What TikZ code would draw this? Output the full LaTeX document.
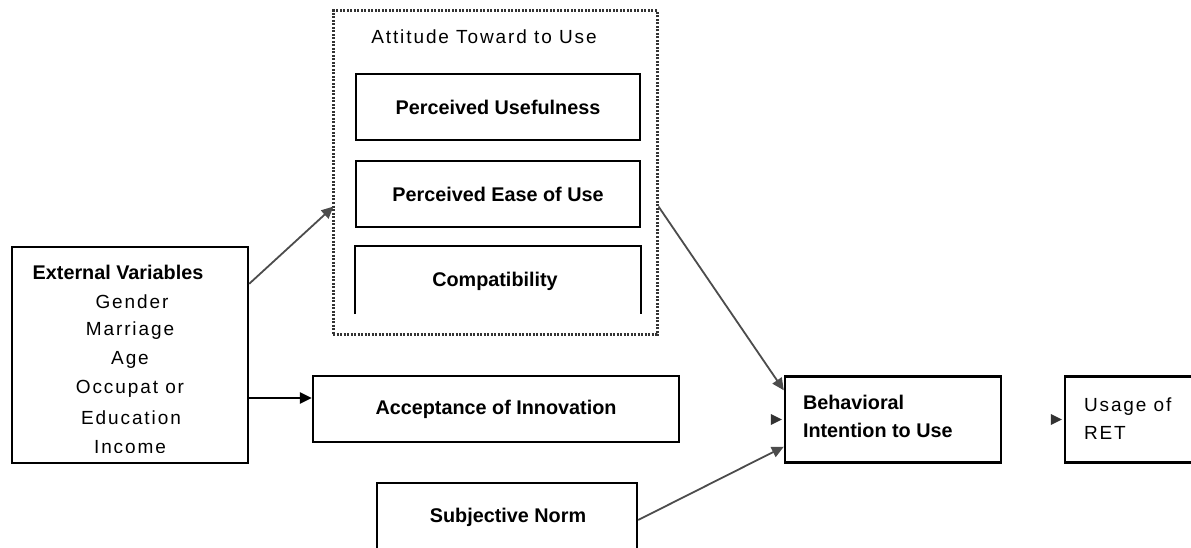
\documentclass[tikz,border=0pt]{standalone}
\usepackage{fontspec}
\setmainfont{Liberation Sans}
\newfontfamily\regfont[LetterSpace=10]{Liberation Sans}
\usetikzlibrary{arrows.meta,calc}
\tikzset{
  boxnode/.style={draw=black, line width=2.4pt, minimum width=#1, inner sep=0pt},
  openbox/.style={line width=2.4pt, minimum width=#1, inner sep=0pt},
  boldlbl/.style={font=\bfseries\fontsize{19.8}{28}\selectfont, inner sep=0pt},
  reglbl/.style={font=\regfont\fontsize{19}{28}\selectfont, inner sep=0pt},
  graylink/.style={draw=black!70, line width=1.8pt, -{Triangle[length=12pt,width=11pt]}},
  blacklink/.style={draw=black, line width=2.4pt, -{Triangle[length=12pt,width=11pt]}},
  dottedframe/.style={draw=black!80, line width=3pt, dash pattern=on 2pt off 1.5pt},
}
\begin{document}
\begin{tikzpicture}[x=1pt,y=-1pt]
\useasboundingbox (0,0) rectangle (1191,548);
\clip (0,0) rectangle (1191,548);
% attitude frame
\node[dottedframe, minimum width=324pt, minimum height=323pt, inner sep=0pt] (att) at (495,172.5) {};
\begin{scope}
\clip (340,20) rectangle (650,43.5);
\node[reglbl] (atttitle) at (484,37) {Attitude Toward to Use};
\end{scope}
\node[boxnode=284pt, minimum height=66pt, boldlbl] (pu) at (498,107) {Perceived Usefulness};
\node[boxnode=284pt, minimum height=66pt, boldlbl] (peou) at (498,194) {Perceived Ease of Use};
\node[openbox=284pt, minimum height=66pt] (compat) at (498,280) {};
\draw[line width=2.4pt] (compat.south west) -- (compat.north west) -- (compat.north east) -- (compat.south east);
\node[boldlbl] (compatlbl) at (495,281) {Compatibility};
% external variables
\node[boxnode=236pt, minimum height=216pt] (ext) at (130,355) {};
\node[boldlbl] (exthead) at (118,272) {External Variables};
\node[reglbl] (g1) at (132,302) {Gender};
\node[reglbl] (g2) at (130,331) {Marriage};
\node[reglbl] (g3) at (130,360) {Age};
\node[reglbl] (g4) at (130,389) {Occupat or};
\node[reglbl] (g5) at (131,418) {Education};
\begin{scope}
\clip (12,247) rectangle (248,452);
\node[reglbl] (g6) at (130,447) {Income};
\end{scope}
% acceptance
\node[boxnode=366pt, minimum height=66pt, boldlbl] (acc) at (496,409) {Acceptance of Innovation};
% subjective norm (cut at bottom)
\node[boxnode=260pt, minimum height=94pt] (sn) at (507,530) {};
\node[boldlbl] (snlbl) at (508,517) {Subjective Norm};
% behavioral intention
\node[boxnode=216pt, minimum height=86pt] (beh) at (893,419.5) {};
\node[boldlbl, anchor=west, align=left] (behlbl) at ($(beh.west)+(19,-3)$) {Behavioral\\Intention to Use};
% usage
\node[boxnode=145pt, minimum height=86pt] (use) at (1137.5,419.5) {};
\node[reglbl, anchor=west, align=left] (uselbl) at ($(use.west)+(20,-1)$) {Usage of\\RET};
% connectors
\coordinate (e1) at ($(ext.north east)+(0,38)$);
\coordinate (a1) at ($(att.west)+(2,34)$);
\draw[graylink] (e1) -- (a1);
\coordinate (e2) at ($(ext.east)+(0,43)$);
\draw[blacklink] (e2) -- (acc.west |- e2);
\coordinate (a2) at ($(att.east)+(0,34)$);
\draw[graylink] (a2) -- ($(beh.north west)+(0,15)$);
\coordinate (s1) at ($(sn.east)+(0,-10)$);
\draw[graylink] (s1) -- ($(beh.south west)+(0,-17)$);
% loose arrowheads
\fill[black!80] ($(beh.west)+(-2,0)$) -- ++(-11,-5.5) -- ++(0,11) -- cycle;
\fill[black!80] ($(use.west)+(-2,0)$) -- ++(-11,-5.5) -- ++(0,11) -- cycle;
\end{tikzpicture}
\end{document}
